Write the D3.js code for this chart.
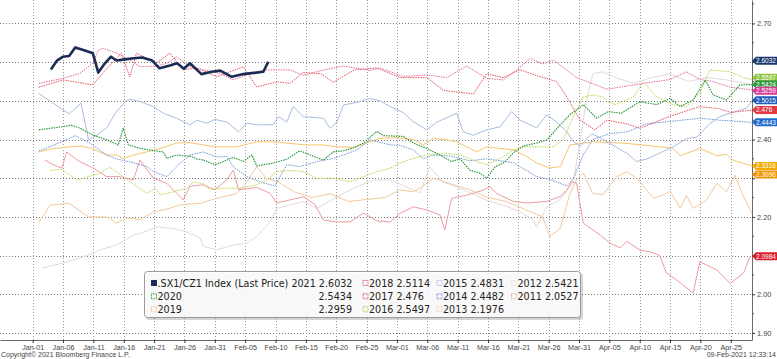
<!DOCTYPE html>
<html><head><meta charset="utf-8">
<script src="https://cdn.jsdelivr.net/npm/d3@7"></script>
<style>body{margin:0;background:#fff}svg{display:block}</style>
</head><body>
<script>
// ---------------- DATA (day offset from Jan-01, value) ----------------
const tickDays = d3.range(0, 116, 5);
const yTickVals = [1.9, 2.0, 2.1, 2.2, 2.3, 2.4, 2.5, 2.6, 2.7];
const yMinorVals = [1.95, 2.05, 2.15, 2.25, 2.35, 2.45, 2.55, 2.65, 2.75];

const s2021 = [[3.0,2.581],[4.0,2.604],[5.0,2.614],[6.0,2.616],[7.0,2.638],[8.6,2.630],[9.9,2.623],[10.8,2.573],[11.9,2.597],[12.9,2.614],[13.8,2.604],[15.2,2.607],[16.6,2.610],[18.0,2.612],[19.6,2.605],[20.9,2.584],[22.6,2.591],[23.8,2.597],[24.9,2.583],[25.9,2.597],[27.8,2.569],[29.5,2.575],[30.9,2.578],[32.8,2.562],[34.7,2.569],[37.4,2.574],[38.0,2.575],[38.8,2.601]];
const s2020 = [[1,2.425],[4.8,2.433],[6.4,2.437],[7.8,2.429],[10,2.411],[12.2,2.399],[14.1,2.386],[14.9,2.429],[15.75,2.386],[17.7,2.377],[19.9,2.371],[21.5,2.368],[22.1,2.351],[23.7,2.36],[26.2,2.356],[27,2.35],[28.1,2.347],[30,2.335],[31.4,2.343],[33.05,2.354],[34.7,2.343],[36.1,2.36],[36.9,2.332],[39.6,2.339],[41.85,2.349],[44,2.371],[45.7,2.36],[47.9,2.347],[49.5,2.368],[51.2,2.371],[52.8,2.378],[54.5,2.391],[56.7,2.421],[57.8,2.41],[59.4,2.409],[61.05,2.408],[62.7,2.391],[64.9,2.377],[67.1,2.36],[69,2.343],[70.4,2.35],[72,2.321],[73.7,2.313],[74.8,2.30],[76.2,2.33],[77.5,2.339],[78.35,2.351],[79.2,2.366],[80.8,2.383],[83,2.391],[84.7,2.399],[86.9,2.438],[88.5,2.464],[90.7,2.49],[92.9,2.455],[94.8,2.472],[97,2.468],[100.05,2.498],[102.8,2.49],[105,2.506],[106.7,2.485],[108.8,2.502],[110.8,2.554],[112.1,2.515],[114.3,2.502],[116.5,2.541],[118.5,2.542]];
const s2019 = [[1,2.368],[2.85,2.375],[6.0,2.381],[7.8,2.383],[9.5,2.378],[12.2,2.36],[13.8,2.36],[14.9,2.351],[16.6,2.36],[18.8,2.368],[21.0,2.377],[23.7,2.391],[25.9,2.392],[28.1,2.386],[30.3,2.381],[33.6,2.381],[36.9,2.394],[39.6,2.394],[42.4,2.39],[44.9,2.386],[47.9,2.386],[50.1,2.381],[53.0,2.38],[57.2,2.403],[59.97,2.405],[62.7,2.40],[64.35,2.386],[66.0,2.403],[68.2,2.399],[69.85,2.394],[71.5,2.381],[73.15,2.368],[74.8,2.381],[77.0,2.377],[79.2,2.373],[81.4,2.356],[83.0,2.339],[85.2,2.326],[86.9,2.33],[88.5,2.386],[92.35,2.394],[97.9,2.39],[103.3,2.381],[105.5,2.377],[106.7,2.358],[109.9,2.377],[112.7,2.358],[114.3,2.362],[115.4,2.346],[118.5,2.332]];
const s2018 = [[1,2.545],[5,2.558],[7.8,2.571],[9.9,2.597],[10.8,2.631],[11.6,2.636],[13.8,2.623],[16,2.605],[17.7,2.588],[20.4,2.59],[22.1,2.597],[23.7,2.614],[25.9,2.588],[28.1,2.58],[30.9,2.571],[33,2.554],[35.3,2.567],[38,2.58],[40.2,2.58],[42.4,2.58],[44.5,2.566],[47.5,2.578],[51.2,2.59],[55.6,2.578],[57.2,2.585],[61,2.563],[64.9,2.567],[68.2,2.56],[71.5,2.59],[74.8,2.558],[77.5,2.554],[80,2.583],[82,2.61],[84,2.595],[85.8,2.605],[89.6,2.56],[94.6,2.53],[100.6,2.545],[105,2.555],[107.7,2.575],[110,2.555],[112,2.55],[115,2.535],[118.5,2.528]];
const s2017 = [[1,2.535],[5,2.554],[9.9,2.541],[12,2.58],[14.6,2.623],[16,2.562],[17.1,2.623],[20.4,2.598],[22.6,2.623],[24.8,2.58],[27,2.585],[30.3,2.562],[34.7,2.588],[36.9,2.536],[40.2,2.549],[42.4,2.545],[44.5,2.573],[47.5,2.57],[49.5,2.548],[53,2.58],[56.7,2.585],[60.5,2.56],[64.9,2.56],[67.7,2.527],[72.6,2.518],[74.8,2.57],[77.5,2.56],[80.3,2.58],[83,2.565],[86.3,2.55],[88,2.51],[90.2,2.45],[92.6,2.425],[94.6,2.45],[98,2.44],[100,2.429],[105,2.46],[109.9,2.485],[113,2.48],[115,2.47],[118.5,2.476]];
const s2016 = [[2.85,2.32],[4.8,2.323],[7.3,2.295],[8.9,2.303],[11.1,2.313],[12.7,2.329],[14.1,2.313],[16,2.291],[18.8,2.261],[20.2,2.274],[21,2.257],[23.2,2.265],[25.4,2.274],[26.5,2.291],[28.1,2.285],[29.2,2.27],[31.4,2.274],[34.2,2.274],[36.9,2.283],[38.55,2.295],[40.2,2.317],[42.4,2.32],[44.6,2.317],[46.8,2.30],[49.5,2.30],[52.3,2.291],[54.5,2.304],[56.7,2.317],[58.9,2.326],[60.5,2.339],[62.7,2.351],[64.9,2.36],[68.2,2.364],[70.4,2.36],[73.15,2.343],[74.8,2.335],[77,2.351],[79.2,2.373],[80.8,2.381],[83,2.381],[85.8,2.381],[87.4,2.40],[89.1,2.46],[90.7,2.51],[92.35,2.515],[94,2.51],[94.6,2.50],[96,2.49],[99,2.51],[100.6,2.549],[102.8,2.51],[105.5,2.49],[107.7,2.485],[109.9,2.52],[111.6,2.58],[114.9,2.575],[117,2.56],[118.5,2.555]];
const s2015 = [[1,2.519],[6.0,2.466],[7.96,2.494],[9.2,2.399],[10.5,2.411],[12.2,2.43],[13.6,2.468],[15.2,2.498],[16,2.504],[17.7,2.498],[19.9,2.485],[21.5,2.468],[23.7,2.455],[25.9,2.438],[27,2.45],[28.7,2.442],[30,2.452],[32,2.445],[33.9,2.42],[35.3,2.442],[36.9,2.438],[39.6,2.438],[40.5,2.459],[41.85,2.445],[42.9,2.485],[44.6,2.459],[47.9,2.455],[49,2.429],[50.1,2.445],[51.2,2.489],[53.9,2.498],[55.6,2.506],[57.2,2.50],[58.9,2.485],[61,2.47],[62.7,2.446],[64.9,2.425],[66.6,2.445],[69.85,2.468],[70.9,2.42],[72.6,2.411],[74.8,2.425],[77,2.433],[78.9,2.472],[80.3,2.45],[83,2.43],[84.7,2.464],[86.3,2.445],[88,2.42],[89.1,2.394],[90.2,2.383],[92.1,2.415],[94,2.40],[97.9,2.364],[99.5,2.343],[101.2,2.35],[103.3,2.365],[105.5,2.381],[107.7,2.402],[109.4,2.406],[111.6,2.442],[113.2,2.459],[114.9,2.468],[117.6,2.481],[118.5,2.50]];
const s2014 = [[1,2.37],[4.8,2.394],[7,2.41],[9.5,2.39],[12.2,2.36],[13.8,2.35],[16.6,2.34],[18.8,2.33],[19.9,2.317],[22.1,2.304],[24.3,2.339],[25.9,2.36],[28.1,2.368],[30.3,2.355],[32,2.356],[33,2.33],[35.3,2.304],[37.5,2.29],[39.9,2.28],[41.85,2.335],[44,2.33],[46.8,2.343],[49.5,2.351],[51.2,2.36],[53.4,2.373],[55.6,2.399],[58.9,2.386],[60.5,2.385],[62.7,2.373],[64.35,2.35],[66,2.36],[69,2.357],[72,2.345],[74.8,2.35],[77,2.345],[79.2,2.34],[83,2.304],[85.2,2.297],[88,2.28],[89.1,2.30],[90.7,2.36],[92.3,2.40],[95,2.415],[98,2.42],[101,2.44],[104,2.445],[107,2.45],[110,2.455],[113,2.45],[116,2.447],[118.5,2.444]];
const s2013 = [[1,2.185],[2.85,2.23],[6,2.235],[9.2,2.20],[12.2,2.2],[13.8,2.184],[15.6,2.197],[17.7,2.193],[19.9,2.213],[22.1,2.22],[24.3,2.231],[27.6,2.235],[30.3,2.248],[33.6,2.26],[35.3,2.29],[36.9,2.33],[38.5,2.30],[40.5,2.29],[43,2.265],[46,2.25],[49,2.26],[52,2.24],[55,2.245],[58,2.25],[60.5,2.27],[62.7,2.265],[64.35,2.28],[66,2.30],[68,2.29],[70,2.28],[72,2.27],[75,2.25],[78,2.24],[81,2.22],[84,2.2],[85.2,2.15],[86.9,2.17],[88.5,2.26],[89.6,2.296],[90.7,2.313],[92.3,2.26],[94,2.258],[96.2,2.304],[97.9,2.317],[99.5,2.30],[102.3,2.248],[104.5,2.261],[105,2.267],[106.7,2.222],[107.7,2.256],[108.8,2.222],[111,2.243],[112.7,2.287],[114.3,2.265],[115.7,2.308],[117,2.256],[118.5,2.209]];
const s2012 = [[1.7,2.068],[6,2.085],[10,2.106],[11.1,2.115],[13.8,2.127],[16.6,2.153],[18.2,2.16],[20.4,2.174],[23.2,2.17],[25.4,2.161],[27.6,2.145],[28.1,2.124],[30.3,2.115],[33,2.127],[35.3,2.132],[36.9,2.149],[39.1,2.187],[40.2,2.222],[42.4,2.231],[44.6,2.24],[46.8,2.222],[48.3,2.235],[51.2,2.261],[53.4,2.278],[56.1,2.295],[58.9,2.296],[63.8,2.262],[65.4,2.33],[67.5,2.29],[69.85,2.278],[74.8,2.243],[78.3,2.226],[80.3,2.213],[82.5,2.192],[83,2.174],[84.7,2.226],[86.9,2.245],[89.1,2.291],[90.2,2.40],[91.2,2.50],[92.3,2.57],[94,2.575],[96,2.56],[99,2.545],[102,2.56],[105,2.57],[108,2.55],[111,2.56],[114,2.555],[118.5,2.542]];
const s2011 = [[2,2.347],[3.4,2.335],[4.8,2.326],[5.6,2.368],[7.5,2.345],[9.98,2.326],[12.2,2.304],[14.4,2.304],[16.57,2.295],[17.68,2.347],[19.87,2.30],[22.08,2.287],[24.8,2.244],[25.9,2.279],[28.1,2.283],[30.0,2.27],[31.96,2.296],[33.05,2.321],[33.9,2.27],[36.9,2.276],[39.1,2.261],[40.2,2.236],[44.6,2.252],[46.5,2.232],[47.9,2.192],[50.1,2.187],[52.3,2.187],[54.5,2.21],[56.7,2.19],[58.9,2.187],[60.5,2.209],[62.7,2.226],[64.9,2.218],[67.1,2.205],[67.9,2.166],[69.0,2.248],[71.5,2.256],[74.2,2.269],[75.3,2.278],[76.5,2.26],[79.2,2.24],[81.4,2.236],[84.7,2.24],[86.9,2.253],[88,2.27],[88.8,2.291],[89.6,2.287],[90.7,2.184],[93.5,2.153],[95.1,2.132],[96.8,2.12],[97.9,2.137],[100.05,2.114],[101.7,2.11],[103.3,2.10],[104.4,2.055],[106.1,2.037],[108.8,2.003],[109.9,2.084],[112.7,2.063],[114.9,2.028],[117.1,2.055],[118.2,2.098]];

const tagLabels = ["2.6032", "2.5597", "2.5424", "2.5259", "2.5015", "2.476", "2.4443", "2.3316", "2.3096", "2.0984"];
const tagValues = tagLabels.map(Number);
const tagColors = ["#1c3a6e", "#8cc63f", "#2e9a3e", "#d63e96", "#1d5cb8", "#e33a44", "#1f6ccc", "#f2a900", "#f29400", "#d81f2a"];

const legendRows = [
  [{c:"#1a2b55", filled:true, t:".SX1/CZ1 Index (Last Price) 2021 2.6032"}, {c:"#e05a8a", t:"2018 2.5114"}, {c:"#a4bce0", t:"2015 2.4831"}, {c:"#e6dce0", t:"2012 2.5421"}],
  [{c:"#2e9a3e", t:"2020", v:"2.5434"}, {c:"#e8505a", t:"2017 2.476"}, {c:"#6a90d8", t:"2014 2.4482"}, {c:"#f0a0a8", t:"2011 2.0527"}],
  [{c:"#f5c070", t:"2019", v:"2.2959"}, {c:"#b4d84a", t:"2016 2.5497"}, {c:"#f2caa0", t:"2013 2.1976"}]
];

// ---------------- SETUP ----------------
const W = 777, H = 359, R = 752, B = 340;
const base = new Date(2020, 0, 1);
const dd = d => new Date(base.getTime() + d * 864e5);
const x = d3.scaleTime().domain([dd(-5.39), dd(118.5)]).range([0, R]);
const y = d3.scaleLinear().domain([1.8819, 2.7605]).range([B, 0]);

const svg = d3.select("body").append("svg").attr("width", W).attr("height", H)
  .style("font-family", "'Liberation Sans', Arial, sans-serif");

// grid
const g = svg.append("g");
g.selectAll(".hg").data(yTickVals).join("line")
  .attr("x1", 0).attr("x2", R).attr("y1", d => Math.round(y(d)) + 0.5).attr("y2", d => Math.round(y(d)) + 0.5)
  .attr("stroke", "#7a7a7a").attr("stroke-width", 1).attr("stroke-dasharray", "1,2");
g.selectAll(".vg").data(tickDays).join("line")
  .attr("x1", d => Math.round(x(dd(d))) + 0.5).attr("x2", d => Math.round(x(dd(d))) + 0.5)
  .attr("y1", 0).attr("y2", B)
  .attr("stroke", "#9a9a9a").attr("stroke-width", 1).attr("stroke-dasharray", "1,2");

// series
const line = d3.line().x(d => x(dd(d[0]))).y(d => y(d[1]));
const series = [
  {d:s2012, c:"#e4d8dc", w:1, dash:null},
  {d:s2013, c:"#f2c9a0", w:1, dash:null},
  {d:s2011, c:"#f09aa2", w:1, dash:null},
  {d:s2019, c:"#f6c46c", w:1, dash:null},
  {d:s2015, c:"#a7bde0", w:1, dash:null},
  {d:s2014, c:"#6f95d8", w:1, dash:"1.5,1"},
  {d:s2016, c:"#b9d64c", w:1, dash:"1.5,1"},
  {d:s2017, c:"#e8505c", w:1, dash:"1.5,1"},
  {d:s2018, c:"#e46a9a", w:1, dash:"1.5,1"},
  {d:s2020, c:"#2f9a3f", w:1.2, dash:"1.5,1"},
  {d:s2021, c:"#1a2b55", w:2.6, dash:null}
];
svg.append("g").selectAll("path").data(series).join("path")
  .attr("d", s => line(s.d)).attr("fill", "none")
  .attr("stroke", s => s.c).attr("stroke-width", s => s.w)
  .attr("stroke-dasharray", s => s.dash).attr("stroke-linejoin", "round");

// axes
const xAxis = svg.append("g").attr("transform", `translate(0,${B})`)
  .call(d3.axisBottom(x).tickValues(tickDays.map(dd)).tickFormat(d3.timeFormat("%b-%d")).tickSize(3).tickSizeOuter(0));
xAxis.select(".domain").attr("stroke", "#6a6a6a");
xAxis.selectAll(".tick line").attr("stroke", "#333");
xAxis.selectAll("text").attr("font-size", 7.2).attr("fill", "#444").attr("dy", "0.55em").attr("font-family", "'Liberation Sans', Arial, sans-serif");

const yAxis = svg.append("g").attr("transform", `translate(${R},0)`)
  .call(d3.axisRight(y).tickValues(yTickVals).tickFormat(d3.format(".2f")).tickSize(3).tickSizeOuter(0));
yAxis.select(".domain").attr("stroke", "#6a6a6a");
yAxis.selectAll(".tick line").attr("stroke", "#333");
yAxis.selectAll("text").attr("font-size", 7.4).attr("fill", "#444").attr("x", 5).attr("font-family", "'Liberation Sans', Arial, sans-serif");
// labels hidden behind value tags
yAxis.selectAll(".tick").filter(d => tagValues.some(t => Math.abs(y(t) - y(d)) < 8)).select("text").remove();
yAxis.selectAll(".minor").data(yMinorVals.filter(v => y(v) > 0)).join("line")
  .attr("x1", 0).attr("x2", 2).attr("y1", d => y(d)).attr("y2", d => y(d)).attr("stroke", "#555");

// value tags
const tg = svg.append("g");
tagValues.forEach((v, i) => {
  const ty = y(v);
  tg.append("path")
    .attr("d", `M${R},${ty} L${R+4},${ty-4} L${W},${ty-4} L${W},${ty+4} L${R+4},${ty+4} Z`)
    .attr("fill", tagColors[i]);
  tg.append("text").attr("x", R + 4).attr("y", ty + 2.4).attr("font-size", 6.5)
    .attr("fill", "#fff").text(tagLabels[i]);
});

// legend
const lg = svg.append("g");
lg.append("rect").attr("x", 146).attr("y", 273).attr("width", 437).attr("height", 47)
  .attr("fill", "#888").attr("opacity", 0.35).attr("rx", 3);
lg.append("rect").attr("x", 144.5).attr("y", 271.5).attr("width", 436).attr("height", 46)
  .attr("fill", "#fff").attr("fill-opacity", 0.85).attr("stroke", "#9a9a9a").attr("rx", 3);
const colX = [151, 362.5, 436.5, 511];
const rowY = [283, 296.3, 309.3];
legendRows.forEach((row, ri) => {
  row.forEach((it, ci) => {
    const cx = colX[ci], cy = rowY[ri];
    lg.append("rect").attr("x", cx + 0.5).attr("y", cy - 2.5).attr("width", 5).attr("height", 5)
      .attr("fill", it.filled ? it.c : "none").attr("stroke", it.c)
      .attr("stroke-dasharray", it.filled ? null : "1,0.6");
    lg.append("text").attr("x", cx + 6.5).attr("y", cy + 3.5).attr("font-size", 9.6)
      .attr("font-family", "'DejaVu Sans', Verdana, sans-serif").attr("fill", "#222").text(it.t);
    if (it.v) lg.append("text").attr("x", 352).attr("y", cy + 3.5).attr("font-size", 9.6)
      .attr("text-anchor", "end").attr("font-family", "'DejaVu Sans', Verdana, sans-serif").attr("fill", "#222").text(it.v);
  });
});

// footer
svg.append("text").attr("x", 1).attr("y", 357).attr("font-size", 7).attr("fill", "#444")
  .text("Copyright\u00A9 2021 Bloomberg Finance L.P.");
svg.append("text").attr("x", 776).attr("y", 357).attr("font-size", 7).attr("fill", "#444")
  .attr("text-anchor", "end").text("09-Feb-2021 12:33:14");
</script>
</body></html>
